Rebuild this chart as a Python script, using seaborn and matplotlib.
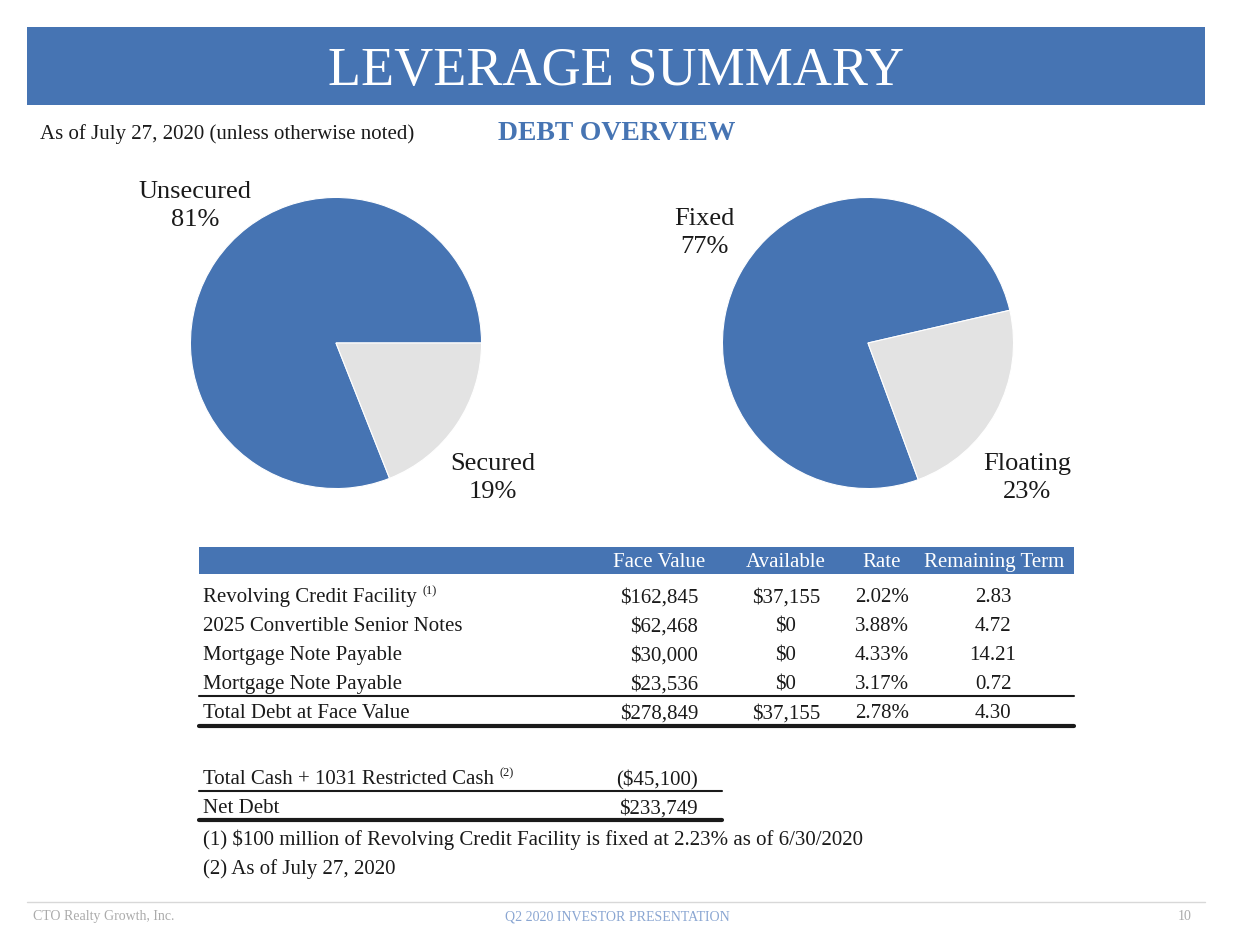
import matplotlib.pyplot as plt
import seaborn as sns

# pie data
lien_labels = ["Unsecured", "Secured"]
lien_share = [81, 19]
rate_labels = ["Fixed", "Floating"]
rate_share = [77, 23]

# debt table
col_headers = ["Face Value", "Available", "Rate", "Remaining Term"]
row_names = ["Revolving Credit Facility", "2025 Convertible Senior Notes",
             "Mortgage Note Payable", "Mortgage Note Payable", "Total Debt at Face Value"]
face_value = ["$162,845", "$62,468", "$30,000", "$23,536", "$278,849"]
available = ["$37,155", "$0", "$0", "$0", "$37,155"]
rates = ["2.02%", "3.88%", "4.33%", "3.17%", "2.78%"]
remaining = ["2.83", "4.72", "14.21", "0.72", "4.30"]

cash_names = ["Total Cash + 1031 Restricted Cash", "Net Debt"]
cash_values = ["($45,100)", "$233,749"]
footnotes = ["(1) $100 million of Revolving Credit Facility is fixed at 2.23% as of 6/30/2020",
             "(2) As of July 27, 2020"]

sns.set_theme(style="white")
plt.rcParams["font.family"] = ["Liberation Serif", "DejaVu Serif"]

BLUE = "#4674b3"
GREY = "#e3e3e3"
TXT = "#1a1a1a"
W, H = 1233, 953
FS = 15

fig = plt.figure(figsize=(W / 100, H / 100), dpi=100)
bg = fig.add_axes([0, 0, 1, 1])
bg.set_xlim(0, W)
bg.set_ylim(H, 0)
bg.axis("off")

# banner
bg.add_patch(plt.Rectangle((27, 28), 1178, 78, color=BLUE, lw=0))
bg.text(616, 72, "LEVERAGE SUMMARY", color="white", fontsize=39, ha="center", va="center")
bg.text(40, 134, "As of July 27, 2020 (unless otherwise noted)", color=TXT, fontsize=15, va="center")
bg.text(617, 133, "DEBT OVERVIEW", color=BLUE, fontsize=20, fontweight="bold", ha="center", va="center")


def draw_pie(cx, cy, r, shares, start):
    ax = fig.add_axes([(cx - r) / W, 1 - (cy + r) / H, 2 * r / W, 2 * r / H])
    ax.pie(shares, colors=[BLUE, GREY], startangle=start, counterclock=True,
           wedgeprops=dict(edgecolor="white", linewidth=0.8))
    ax.set_xlim(-1.01, 1.01)
    ax.set_ylim(-1.01, 1.01)
    ax.set_facecolor("none")


draw_pie(336, 344, 147, lien_share, 0)
draw_pie(868, 344, 147, rate_share, 13)

pie_lbl = dict(fontsize=19, color=TXT, ha="center", va="center", linespacing=1.35)
bg.text(195, 206, f"{lien_labels[0]}\n{lien_share[0]}%", **pie_lbl)
bg.text(493, 478, f"{lien_labels[1]}\n{lien_share[1]}%", **pie_lbl)
bg.text(704, 233, f"{rate_labels[0]}\n{rate_share[0]}%", **pie_lbl)
bg.text(1027, 478, f"{rate_labels[1]}\n{rate_share[1]}%", **pie_lbl)


def sup(artist, mark):
    bg.annotate(mark, xy=(1, 1), xycoords=artist, xytext=(4, -2),
                textcoords="offset points", fontsize=9, color=TXT, va="center")


# debt table
bg.add_patch(plt.Rectangle((199, 548), 875, 27, color=BLUE, lw=0))
hdr_x = [659, 786, 882, 994]
for x, h in zip(hdr_x, col_headers):
    bg.text(x, 563, h, color="white", fontsize=FS, ha="center", va="center")

row_y = [598, 627, 656, 685, 714]
for i, y in enumerate(row_y):
    t = bg.text(203, y, row_names[i], color=TXT, fontsize=FS, va="center")
    if i == 0:
        sup(t, "(1)")
    bg.text(698, y, face_value[i], color=TXT, fontsize=FS, ha="right", va="center")
    bg.text(786, y, available[i], color=TXT, fontsize=FS, ha="center", va="center")
    bg.text(882, y, rates[i], color=TXT, fontsize=FS, ha="center", va="center")
    bg.text(993, y, remaining[i], color=TXT, fontsize=FS, ha="center", va="center")
bg.plot([199, 1074], [697, 697], color=TXT, lw=1.5)
bg.plot([199, 1074], [727, 727], color=TXT, lw=3)

# cash table
cash_y = [780, 809]
for i, (y, n, v) in enumerate(zip(cash_y, cash_names, cash_values)):
    t = bg.text(203, y, n, color=TXT, fontsize=FS, va="center")
    if i == 0:
        sup(t, "(2)")
    bg.text(698, y, v, color=TXT, fontsize=FS, ha="right", va="center")
bg.plot([199, 722], [792, 792], color=TXT, lw=1.5)
bg.plot([199, 722], [821, 821], color=TXT, lw=3)
for y, t in zip([840, 869], footnotes):
    bg.text(203, y, t, color=TXT, fontsize=FS, va="center")

# footer
bg.plot([27, 1205], [903, 903], color="#d8d8d8", lw=1)
bg.text(33, 917, "CTO Realty Growth, Inc.", color="#ababab", fontsize=10, va="center")
bg.text(617, 917, "Q2 2020 INVESTOR PRESENTATION", color="#8aa6d2", fontsize=10, ha="center", va="center")
bg.text(1178, 917, "10", color="#ababab", fontsize=10, va="center")

fig.savefig("out.png", dpi=100, facecolor="white")
